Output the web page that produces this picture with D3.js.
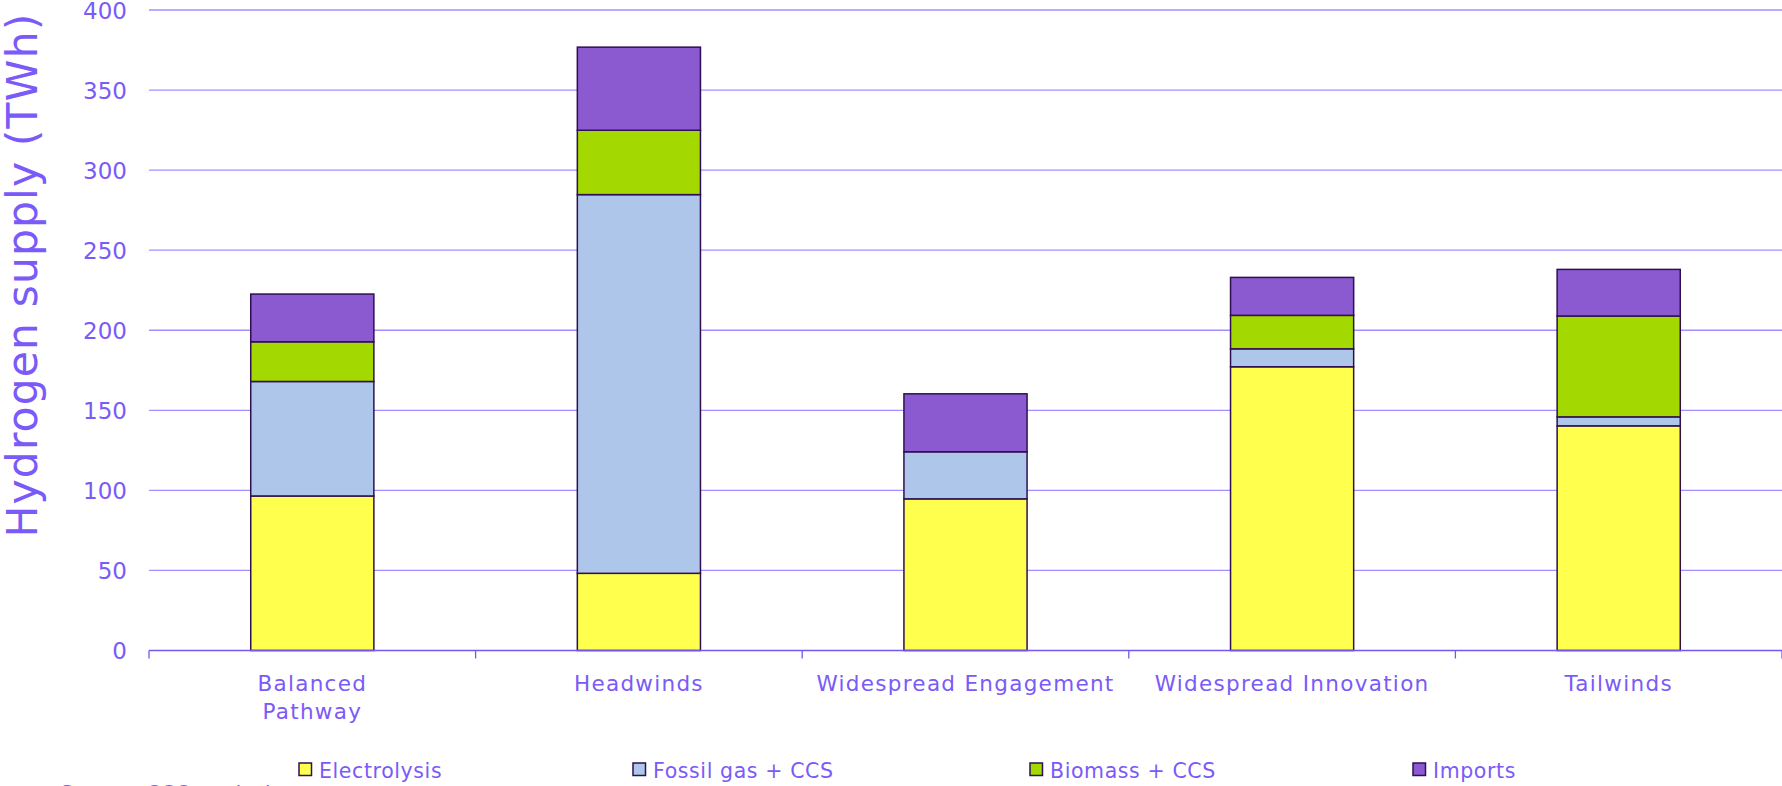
<!DOCTYPE html>
<html>
<head>
<meta charset="utf-8">
<script src="https://cdn.jsdelivr.net/npm/d3@7"></script>
<style>
  html, body { margin: 0; padding: 0; background: #fff; overflow: hidden; }
  svg { display: block; font-family: "DejaVu Sans", sans-serif; }
</style>
</head>
<body>
<svg id="chart" width="1782" height="786"></svg>
<script>
// Hydrogen supply by scenario (TWh), stacked by source
const categories = ["Balanced Pathway", "Headwinds", "Widespread Engagement", "Widespread Innovation", "Tailwinds"];
const categoryLines = [["Balanced", "Pathway"], ["Headwinds"], ["Widespread Engagement"], ["Widespread Innovation"], ["Tailwinds"]];
const seriesNames = ["Electrolysis", "Fossil gas + CCS", "Biomass + CCS", "Imports"];
const electrolysis = [96.5, 48.2, 94.7, 177.2, 140.3];
const fossilGasCCS = [71.5, 236.5, 29.4, 11.2, 5.6];
const biomassCCS   = [24.8, 40.2, 0, 20.9, 63.0];
const imports      = [29.8, 51.9, 36.2, 23.7, 29.1];
const yTicks = [0, 50, 100, 150, 200, 250, 300, 350, 400];
const yTitle = "Hydrogen supply (TWh)";

const colors = ["#ffff4d", "#adc6ea", "#a3d800", "#8b59d0"];
const textColor = "#7a5af8";
const gridColor = "#a78dff";
const axisColor = "#7457f2";
const edgeColor = "#2e1052";

const series = [electrolysis, fossilGasCCS, biomassCCS, imports];
const rows = categories.map((c, i) => {
  const r = { category: c };
  seriesNames.forEach((s, k) => { r[s] = series[k][i]; });
  return r;
});
const stacked = d3.stack().keys(seriesNames)(rows);

const svg = d3.select("#chart");
const x = d3.scaleBand().domain(categories).range([149, 1782]).paddingInner(0.623).paddingOuter(0.3115);
const y = d3.scaleLinear().domain([0, 400]).range([650.5, 10]);

// horizontal gridlines
svg.append("g").selectAll("line").data(yTicks.filter(t => t > 0)).join("line")
  .attr("x1", 149).attr("x2", 1782)
  .attr("y1", d => y(d)).attr("y2", d => y(d))
  .attr("stroke", gridColor).attr("stroke-width", 1.3);

// y tick labels
svg.append("g").selectAll("text").data(yTicks).join("text")
  .attr("x", 127).attr("y", d => y(d) + 8.5)
  .attr("text-anchor", "end")
  .attr("font-size", 23).attr("fill", textColor)
  .text(d => d);

// stacked bars
svg.append("g").selectAll("g").data(stacked).join("g")
  .attr("fill", (d, i) => colors[i])
  .selectAll("rect").data(d => d.filter(p => p[1] - p[0] > 0)).join("rect")
  .attr("x", d => x(d.data.category))
  .attr("width", x.bandwidth())
  .attr("y", d => y(d[1]))
  .attr("height", d => y(d[0]) - y(d[1]))
  .attr("stroke", edgeColor).attr("stroke-width", 1.5);

// x axis baseline and category boundary ticks
const xAxis = svg.append("g");
xAxis.append("line").attr("x1", 149).attr("x2", 1782).attr("y1", y(0)).attr("y2", y(0))
  .attr("stroke", axisColor).attr("stroke-width", 1.3);
const step = x.step();
const bounds = d3.range(categories.length + 1).map(i => 149 + i * step);
xAxis.selectAll("line.tick").data(bounds).join("line").attr("class", "tick")
  .attr("x1", d => d).attr("x2", d => d)
  .attr("y1", y(0)).attr("y2", y(0) + 8)
  .attr("stroke", axisColor).attr("stroke-width", 1.3);

// category labels
const catLabels = svg.append("g").selectAll("text").data(categories).join("text")
  .attr("text-anchor", "middle")
  .attr("font-size", 21.5).attr("fill", textColor)
  .attr("letter-spacing", 1.3);
catLabels.each(function (c, i) {
  const t = d3.select(this);
  categoryLines[i].forEach((line, j) => {
    t.append("tspan").attr("x", x(c) + x.bandwidth() / 2).attr("y", 691 + j * 28).text(line);
  });
});

// y axis title
svg.append("text")
  .attr("transform", "translate(37,275) rotate(-90)")
  .attr("text-anchor", "middle")
  .attr("font-size", 42.5).attr("fill", textColor)
  .attr("letter-spacing", 1.1)
  .text(yTitle);

// legend
const legendX = [299, 633, 1030, 1413];
const legend = svg.append("g").selectAll("g").data(seriesNames).join("g")
  .attr("transform", (d, i) => `translate(${legendX[i]},763)`);
legend.append("rect").attr("width", 12.5).attr("height", 12.5)
  .attr("fill", (d, i) => colors[i]).attr("stroke", edgeColor).attr("stroke-width", 1.5);
legend.append("text").attr("x", 20).attr("y", 14.5)
  .attr("font-size", 20.5).attr("fill", textColor).attr("letter-spacing", 0.6)
  .text(d => d);

// source note along the bottom edge
svg.append("text").attr("x", 60).attr("y", 801)
  .attr("font-size", 21).attr("fill", textColor)
  .text("Source: CCC analysis.");
</script>
</body>
</html>
